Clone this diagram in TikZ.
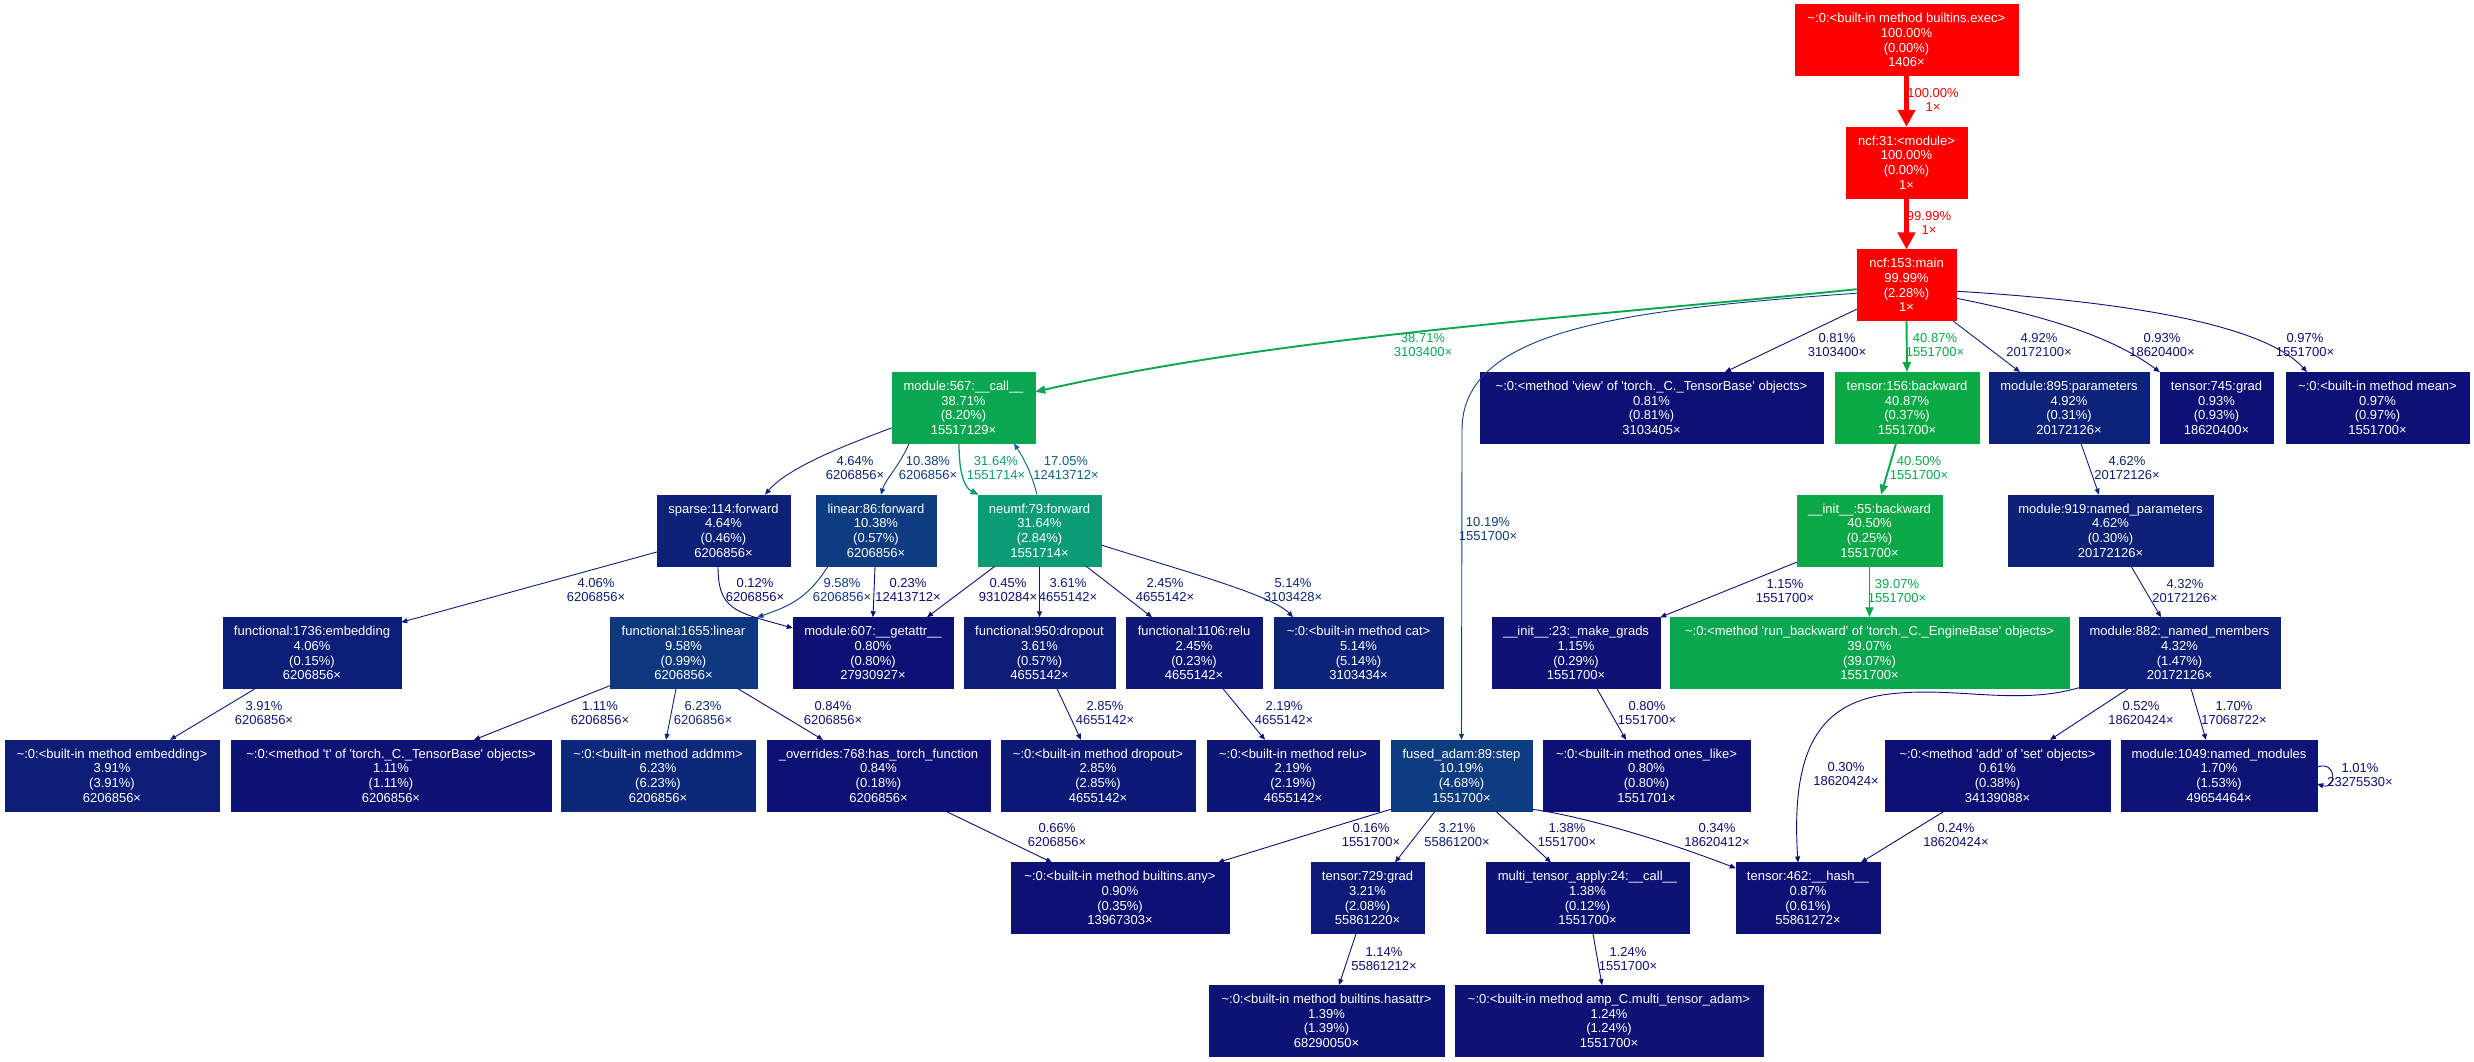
\documentclass[tikz,border=0pt]{standalone}
\usepackage{fontspec}
\setmainfont{Liberation Sans}[Ligatures=TeXOff]
\usetikzlibrary{arrows.meta}
\definecolor{cred}{RGB}{255,0,0}
\definecolor{c567}{RGB}{11,166,81}
\definecolor{cneu}{RGB}{11,156,118}
\definecolor{c156}{RGB}{11,169,68}
\definecolor{c55}{RGB}{11,168,71}
\definecolor{crun}{RGB}{11,167,79}
\definecolor{cback}{RGB}{12,97,137}
\definecolor{c1038}{RGB}{13,61,128}
\definecolor{c1019}{RGB}{13,60,128}
\definecolor{c958}{RGB}{13,56,127}
\definecolor{c623}{RGB}{13,40,123}
\definecolor{c514}{RGB}{13,35,121}
\definecolor{c492}{RGB}{13,34,121}
\definecolor{c464}{RGB}{13,33,121}
\definecolor{c432}{RGB}{13,31,120}
\definecolor{c406}{RGB}{13,30,120}
\definecolor{c391}{RGB}{13,29,120}
\definecolor{c361}{RGB}{13,28,119}
\definecolor{c321}{RGB}{13,26,119}
\definecolor{c285}{RGB}{13,25,118}
\definecolor{c245}{RGB}{13,23,118}
\definecolor{c219}{RGB}{13,22,117}
\definecolor{c170}{RGB}{13,20,117}
\definecolor{c14}{RGB}{13,19,117}
\definecolor{c111}{RGB}{13,18,116}
\definecolor{c09}{RGB}{13,16,116}
\definecolor{c06}{RGB}{13,15,116}
\definecolor{c02}{RGB}{13,14,115}
\newcommand\gf{\fontsize{13}{14.7}\selectfont}
\newcommand\tl{\textasciitilde}
\begin{document}
\begin{tikzpicture}[x=1pt,y=-1pt,
 gnode/.style={rectangle, inner sep=0pt, minimum height=71pt, text=white, align=center, font=\gf, fill=#1, draw=#1, line width=0.5pt},
 elab/.style={inner sep=0pt, align=center, font=\gf, text=#1},
 ethin/.style={draw=#1, line width=0.9pt, -{Triangle[length=6pt,width=5pt]}},
 emid/.style={draw=#1, line width=1.3pt, -{Triangle[length=8pt,width=6.5pt]}},
 egreen/.style={draw=#1, line width=1.9pt, -{Triangle[length=10pt,width=8pt]}},
 ered/.style={draw=#1, line width=4.3pt, -{Triangle[length=17pt,width=17pt]}},
]
\fill[white] (0,0) rectangle (2474,1061);
\useasboundingbox (0,0) rectangle (2474,1061);

% row 0-2
\node[gnode=cred, minimum width=223pt] (exec) at (1906.5,40) {\tl:0:<built-in method builtins.exec>\\100.00\%\\(0.00\%)\\1406×};
\node[gnode=cred, minimum width=121pt] (mod31) at (1906.5,162.6) {ncf:31:<module>\\100.00\%\\(0.00\%)\\1×};
\node[gnode=cred, minimum width=99pt] (main) at (1906.5,285.2) {ncf:153:main\\99.99\%\\(2.28\%)\\1×};
% row 3
\node[gnode=c567, minimum width=143pt] (m567) at (963.5,407.8) {module:567:\_\_call\_\_\\38.71\%\\(8.20\%)\\15517129×};
\node[gnode=c09, minimum width=343pt] (view) at (1651.5,407.8) {\tl:0:<method 'view' of 'torch.\_C.\_TensorBase' objects>\\0.81\%\\(0.81\%)\\3103405×};
\node[gnode=c156, minimum width=144pt] (t156) at (1907,407.8) {tensor:156:backward\\40.87\%\\(0.37\%)\\1551700×};
\node[gnode=c492, minimum width=160pt] (m895) at (2069,407.8) {module:895:parameters\\4.92\%\\(0.31\%)\\20172126×};
\node[gnode=c09, minimum width=113pt] (t745) at (2216.5,407.8) {tensor:745:grad\\0.93\%\\(0.93\%)\\18620400×};
\node[gnode=c09, minimum width=183pt] (mean) at (2377.5,407.8) {\tl:0:<built-in method mean>\\0.97\%\\(0.97\%)\\1551700×};
% row 4
\node[gnode=c464, minimum width=133pt] (sparse) at (723.5,530.4) {sparse:114:forward\\4.64\%\\(0.46\%)\\6206856×};
\node[gnode=c1038, minimum width=120pt] (lin86) at (876,530.4) {linear:86:forward\\10.38\%\\(0.57\%)\\6206856×};
\node[gnode=cneu, minimum width=123pt] (neumf) at (1039.5,530.4) {neumf:79:forward\\31.64\%\\(2.84\%)\\1551714×};
\node[gnode=c55, minimum width=145pt] (init55) at (1869.5,530.4) {\_\_init\_\_:55:backward\\40.50\%\\(0.25\%)\\1551700×};
\node[gnode=c464, minimum width=205pt] (m919) at (2110.5,530.4) {module:919:named\_parameters\\4.62\%\\(0.30\%)\\20172126×};
% row 5
\node[gnode=c406, minimum width=178pt] (emb) at (312,653) {functional:1736:embedding\\4.06\%\\(0.15\%)\\6206856×};
\node[gnode=c958, minimum width=147pt] (lin1655) at (683.5,653) {functional:1655:linear\\9.58\%\\(0.99\%)\\6206856×};
\node[gnode=c09, minimum width=160pt] (getattr) at (873,653) {module:607:\_\_getattr\_\_\\0.80\%\\(0.80\%)\\27930927×};
\node[gnode=c361, minimum width=151pt] (drop950) at (1039.5,653) {functional:950:dropout\\3.61\%\\(0.57\%)\\4655142×};
\node[gnode=c245, minimum width=136pt] (relu1106) at (1194,653) {functional:1106:relu\\2.45\%\\(0.23\%)\\4655142×};
\node[gnode=c514, minimum width=169pt] (cat) at (1358.5,653) {\tl:0:<built-in method cat>\\5.14\%\\(5.14\%)\\3103434×};
\node[gnode=c111, minimum width=168pt] (mkgrads) at (1576,653) {\_\_init\_\_:23:\_make\_grads\\1.15\%\\(0.29\%)\\1551700×};
\node[gnode=crun, minimum width=399pt] (runbw) at (1869.5,653) {\tl:0:<method 'run\_backward' of 'torch.\_C.\_EngineBase' objects>\\39.07\%\\(39.07\%)\\1551700×};
\node[gnode=c432, minimum width=201pt] (m882) at (2179.5,653) {module:882:\_named\_members\\4.32\%\\(1.47\%)\\20172126×};
% row 6
\node[gnode=c391, minimum width=214pt] (bemb) at (112,775.6) {\tl:0:<built-in method embedding>\\3.91\%\\(3.91\%)\\6206856×};
\node[gnode=c111, minimum width=320pt] (mt) at (391,775.6) {\tl:0:<method 't' of 'torch.\_C.\_TensorBase' objects>\\1.11\%\\(1.11\%)\\6206856×};
\node[gnode=c623, minimum width=194pt] (addmm) at (658,775.6) {\tl:0:<built-in method addmm>\\6.23\%\\(6.23\%)\\6206856×};
\node[gnode=c09, minimum width=223pt] (overr) at (878.5,775.6) {\_overrides:768:has\_torch\_function\\0.84\%\\(0.18\%)\\6206856×};
\node[gnode=c285, minimum width=194pt] (bdrop) at (1098,775.6) {\tl:0:<built-in method dropout>\\2.85\%\\(2.85\%)\\4655142×};
\node[gnode=c219, minimum width=172pt] (brelu) at (1293,775.6) {\tl:0:<built-in method relu>\\2.19\%\\(2.19\%)\\4655142×};
\node[gnode=c1019, minimum width=141pt] (fused) at (1461.5,775.6) {fused\_adam:89:step\\10.19\%\\(4.68\%)\\1551700×};
\node[gnode=c09, minimum width=207pt] (ones) at (1646.5,775.6) {\tl:0:<built-in method ones\_like>\\0.80\%\\(0.80\%)\\1551701×};
\node[gnode=c06, minimum width=225pt] (addset) at (1997.5,775.6) {\tl:0:<method 'add' of 'set' objects>\\0.61\%\\(0.38\%)\\34139088×};
\node[gnode=c170, minimum width=196pt] (m1049) at (2219,775.6) {module:1049:named\_modules\\1.70\%\\(1.53\%)\\49654464×};
% row 7
\node[gnode=c09, minimum width=218pt] (any) at (1120,898.2) {\tl:0:<built-in method builtins.any>\\0.90\%\\(0.35\%)\\13967303×};
\node[gnode=c321, minimum width=113pt] (t729) at (1367.5,898.2) {tensor:729:grad\\3.21\%\\(2.08\%)\\55861220×};
\node[gnode=c14, minimum width=203pt] (multi) at (1587.5,898.2) {multi\_tensor\_apply:24:\_\_call\_\_\\1.38\%\\(0.12\%)\\1551700×};
\node[gnode=c09, minimum width=144pt] (t462) at (1808,898.2) {tensor:462:\_\_hash\_\_\\0.87\%\\(0.61\%)\\55861272×};
% row 8
\node[gnode=c14, minimum width=235pt] (hasattr) at (1326.5,1020.8) {\tl:0:<built-in method builtins.hasattr>\\1.39\%\\(1.39\%)\\68290050×};
\node[gnode=c111, minimum width=308pt] (ampc) at (1609,1020.8) {\tl:0:<built-in method amp\_C.multi\_tensor\_adam>\\1.24\%\\(1.24\%)\\1551700×};

% ---- edges ----
\draw[ered=cred] (exec) -- (mod31);
\node[elab=cred] (l1) at (1933,100) {100.00\%\\1×};
\draw[ered=cred] (mod31) -- (main);
\node[elab=cred] (l2) at (1929,223) {99.99\%\\1×};

\draw[egreen=c567] ([yshift=-4pt]main.west) .. controls (1607,315) and (1285,335) .. ([yshift=16pt]m567.east);
\node[elab=c567] (l3) at (1423,345) {38.71\%\\3103400×};
\draw[ethin=c1019] ([yshift=-8pt]main.west) .. controls (1620,310) and (1462,330) .. (1462,430) -- (fused.north);
\node[elab=c1019] (l4) at (1488,529) {10.19\%\\1551700×};
\draw[ethin=c09] ([yshift=-24pt]main.west) -- ([xshift=73.5pt]view.north);
\node[elab=c09] (l5) at (1837,345) {0.81\%\\3103400×};
\draw[egreen=c156] (main.south) -- (t156.north);
\node[elab=c156] (l6) at (1935,345) {40.87\%\\1551700×};
\draw[ethin=c492] ([xshift=46.5pt]main.south) -- ([xshift=-49pt]m895.north);
\node[elab=c492] (l7) at (2039,345) {4.92\%\\20172100×};
\draw[ethin=c09] ([yshift=-13pt]main.east) .. controls (2040,315) and (2110,335) .. (t745.north west);
\node[elab=c09] (l8) at (2162,345) {0.93\%\\18620400×};
\draw[ethin=c09] ([yshift=-6pt]main.east) .. controls (2100,300) and (2260,320) .. ([xshift=-70.5pt]mean.north);
\node[elab=c09] (l9) at (2305,345) {0.97\%\\1551700×};

\draw[ethin=c464] ([yshift=-20pt]m567.west) .. controls (860,440) and (790,465) .. ([xshift=41.5pt]sparse.north);
\node[elab=c464] (l10) at (855,468) {4.64\%\\6206856×};
\draw[ethin=c1038] ([xshift=-54.5pt]m567.south) .. controls (900,465) and (885,480) .. ([xshift=5pt]lin86.north);
\node[elab=c1038] (l11) at (928,468) {10.38\%\\6206856×};
\draw[emid=cneu] ([xshift=-4.5pt]m567.south) .. controls (959,475) and (965,488) .. ([xshift=-61pt]neumf.north);
\node[elab=cneu] (l12) at (996,468) {31.64\%\\1551714×};
\draw[ethin=cback] ([xshift=-2.5pt]neumf.north) .. controls (1032,475) and (1025,460) .. ([xshift=50.5pt]m567.south);
\node[elab=cback] (l13) at (1066,468) {17.05\%\\12413712×};
\draw[egreen=c55] ([xshift=-11pt]t156.south) -- ([xshift=11.5pt]init55.north);
\node[elab=c55] (l14) at (1919,468) {40.50\%\\1551700×};
\draw[ethin=c464] ([xshift=12pt]m895.south) -- ([xshift=-11.5pt]m919.north);
\node[elab=c464] (l15) at (2127,468) {4.62\%\\20172126×};

\draw[ethin=c406] ([yshift=-21.6pt]sparse.west) -- ([yshift=-5pt]emb.north east);
\node[elab=c406] (l16) at (596,590) {4.06\%\\6206856×};
\draw[ethin=c02] ([xshift=-5.5pt]sparse.south) .. controls (718,610) and (735,612) .. ([yshift=25pt]getattr.west);
\node[elab=c02] (l17) at (755,590) {0.12\%\\6206856×};
\draw[ethin=c958] ([xshift=-48pt]lin86.south) .. controls (808,598) and (790,606) .. (lin1655.north east);
\node[elab=c958] (l18) at (842,590) {9.58\%\\6206856×};
\draw[ethin=c02] ([xshift=-1pt]lin86.south) -- (getattr.north);
\node[elab=c02] (l19) at (908,590) {0.23\%\\12413712×};
\draw[ethin=c02] ([xshift=-44.5pt]neumf.south) -- ([xshift=54pt]getattr.north);
\node[elab=c02] (l20) at (1008,590) {0.45\%\\9310284×};
\draw[ethin=c361] (neumf.south) -- (drop950.north);
\node[elab=c361] (l21) at (1068,590) {3.61\%\\4655142×};
\draw[ethin=c245] ([xshift=46.5pt]neumf.south) -- ([xshift=-42pt]relu1106.north);
\node[elab=c245] (l22) at (1165,590) {2.45\%\\4655142×};
\draw[ethin=c514] ([yshift=-14.6pt]neumf.east) .. controls (1180,570) and (1272,595) .. ([xshift=-65.5pt]cat.north);
\node[elab=c514] (l23) at (1293,590) {5.14\%\\3103428×};
\draw[ethin=c111] ([yshift=4pt]init55.south west) -- (mkgrads.north east);
\node[elab=c111] (l24) at (1785,591) {1.15\%\\1551700×};
\draw[egreen=crun] (init55.south) -- (runbw.north);
\node[elab=crun] (l25) at (1897,591) {39.07\%\\1551700×};
\draw[ethin=c432] ([xshift=20.5pt]m919.south) -- ([xshift=-18.5pt]m882.north);
\node[elab=c432] (l26) at (2185,591) {4.32\%\\20172126×};

\draw[ethin=c391] ([xshift=-57pt]emb.south) -- ([xshift=58pt]bemb.north);
\node[elab=c391] (l27) at (264,713) {3.91\%\\6206856×};
\draw[ethin=c111] ([yshift=3pt]lin1655.south west) -- ([xshift=83pt]mt.north);
\node[elab=c111] (l28) at (600,713) {1.11\%\\6206856×};
\draw[ethin=c623] ([xshift=-7.5pt]lin1655.south) -- ([xshift=8pt]addmm.north);
\node[elab=c623] (l29) at (703,713) {6.23\%\\6206856×};
\draw[ethin=c09] ([xshift=54.5pt]lin1655.south) -- ([xshift=-55.5pt]overr.north);
\node[elab=c09] (l30) at (833,713) {0.84\%\\6206856×};
\draw[ethin=c285] ([xshift=17.5pt]drop950.south) -- ([xshift=-17pt]bdrop.north);
\node[elab=c285] (l31) at (1105,713) {2.85\%\\4655142×};
\draw[ethin=c219] ([xshift=29pt]relu1106.south) -- ([xshift=-28pt]brelu.north);
\node[elab=c219] (l32) at (1284,713) {2.19\%\\4655142×};
\draw[ethin=c09] ([xshift=21pt]mkgrads.south) -- ([xshift=-20.5pt]ones.north);
\node[elab=c09] (l33) at (1647,713) {0.80\%\\1551700×};
\draw[ethin=c06] ([xshift=-51.5pt]m882.south) -- ([xshift=52.5pt]addset.north);
\node[elab=c06] (l34) at (2141,713) {0.52\%\\18620424×};
\draw[ethin=c170] ([xshift=11.5pt]m882.south) -- ([xshift=-13pt]m1049.north);
\node[elab=c170] (l35) at (2234,713) {1.70\%\\17068722×};
\draw[ethin=c02] ([yshift=1pt]m882.south west) .. controls (2020,705) and (1960,688) .. (1900,693) .. controls (1825,698) and (1790,740) .. ([xshift=-10pt]t462.north);
\node[elab=c02] (l36) at (1846,774) {0.30\%\\18620424×};
\draw[ethin=c09] ([yshift=8.6pt]m1049.east) .. controls (2337,760) and (2337,790) .. ([yshift=-8.4pt]m1049.east);
\node[elab=c09] (l37) at (2360,775) {1.01\%\\23275530×};

\draw[ethin=c06] ([xshift=67.5pt]overr.south) -- ([xshift=-68pt]any.north);
\node[elab=c06] (l38) at (1057,835) {0.66\%\\6206856×};
\draw[ethin=c02] ([yshift=2pt]fused.south west) .. controls (1378,813) and (1300,837) .. ([xshift=98pt]any.north);
\node[elab=c02] (l39) at (1371,835) {0.16\%\\1551700×};
\draw[ethin=c321] ([xshift=-26.5pt]fused.south) -- ([xshift=27.5pt]t729.north);
\node[elab=c321] (l40) at (1457,835) {3.21\%\\55861200×};
\draw[ethin=c14] ([xshift=34.5pt]fused.south) -- ([xshift=-36.5pt]multi.north);
\node[elab=c14] (l41) at (1567,835) {1.38\%\\1551700×};
\draw[ethin=c02] ([yshift=2pt]fused.south east) .. controls (1570,814) and (1650,835) .. ([yshift=30pt]t462.west);
\node[elab=c02] (l42) at (1717,835) {0.34\%\\18620412×};
\draw[ethin=c02] ([xshift=-53.5pt]addset.south) -- ([xshift=53pt]t462.north);
\node[elab=c02] (l43) at (1956,835) {0.24\%\\18620424×};

\draw[ethin=c111] ([xshift=-11.5pt]t729.south) -- ([xshift=12.5pt]hasattr.north);
\node[elab=c111] (l44) at (1384,959) {1.14\%\\55861212×};
\draw[ethin=c111] ([xshift=5.5pt]multi.south) -- ([xshift=-7pt]ampc.north);
\node[elab=c111] (l45) at (1628,959) {1.24\%\\1551700×};
\end{tikzpicture}
\end{document}
